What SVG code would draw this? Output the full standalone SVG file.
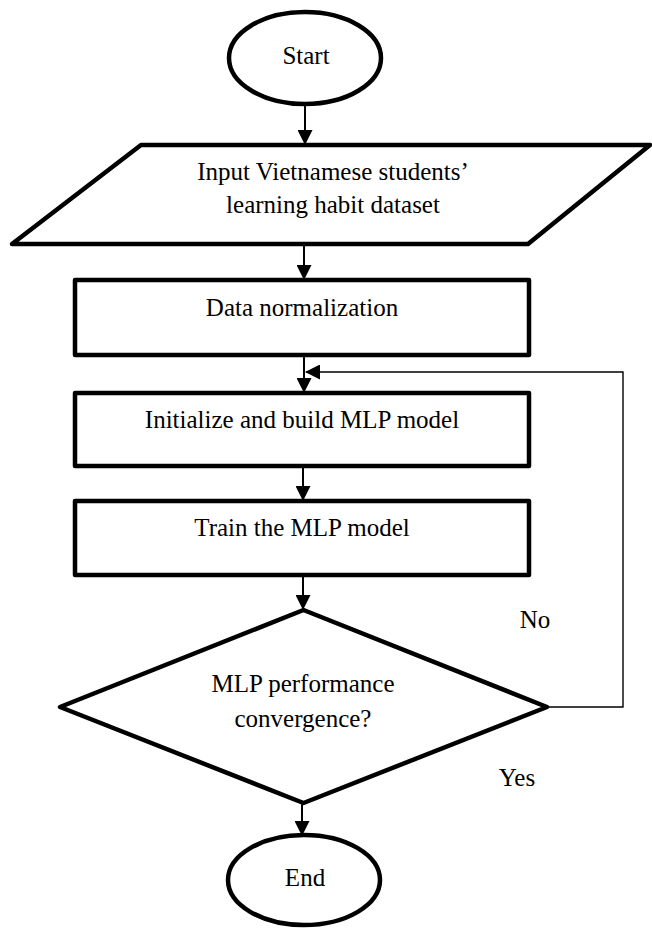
<svg xmlns="http://www.w3.org/2000/svg" width="652" height="934" viewBox="0 0 652 934">
<style>
.shape{fill:#fff;stroke:#000;stroke-width:4.5;stroke-linejoin:round}
.txt{font-family:'Liberation Serif','Times New Roman','DejaVu Serif',serif;font-size:25px;fill:#000;text-anchor:middle}
.conn{fill:none;stroke:#000;stroke-width:2}
.thin{fill:none;stroke:#000;stroke-width:1.4}
</style>
<defs>
<marker id="ah" markerUnits="userSpaceOnUse" markerWidth="15" markerHeight="15" refX="14" refY="7.5" orient="auto">
<path d="M0,0 L15,7.5 L0,15 z" fill="#000"/>
</marker>
</defs>
<rect width="652" height="934" fill="#fff"/>
<g id="connectors">
<line class="conn" x1="305" y1="103" x2="305" y2="144" marker-end="url(#ah)"/>
<line class="conn" x1="304" y1="245" x2="304" y2="279" marker-end="url(#ah)"/>
<line class="conn" x1="304" y1="356" x2="304" y2="392" marker-end="url(#ah)"/>
<polyline class="thin" points="547,707 623,707 623,372 306,372" marker-end="url(#ah)"/>
<line class="conn" x1="303" y1="467" x2="303" y2="500" marker-end="url(#ah)"/>
<line class="conn" x1="303" y1="576" x2="303" y2="609" marker-end="url(#ah)"/>
<line class="conn" x1="302" y1="804" x2="302" y2="835" marker-end="url(#ah)"/>
</g>
<g id="start">
<ellipse class="shape" cx="305" cy="58" rx="76" ry="46"/>
<text class="txt" x="306" y="64">Start</text>
</g>
<g id="input">
<polygon class="shape" points="141,145 650,145 528,244 12,244"/>
<text class="txt" x="333" y="180">Input Vietnamese students’</text>
<text class="txt" x="333" y="213">learning habit dataset</text>
</g>
<g id="normalize">
<rect class="shape" x="75" y="280" width="454" height="75"/>
<text class="txt" x="302" y="316">Data normalization</text>
</g>
<g id="init">
<rect class="shape" x="75" y="393" width="454" height="73"/>
<text class="txt" x="302" y="428">Initialize and build MLP model</text>
</g>
<g id="train">
<rect class="shape" x="75" y="501" width="454" height="74"/>
<text class="txt" x="302" y="536">Train the MLP model</text>
</g>
<g id="decision">
<polygon class="shape" points="303.5,610 547,707 303.5,803 60,707"/>
<text class="txt" x="303" y="692">MLP performance</text>
<text class="txt" x="303" y="727">convergence?</text>
</g>
<g id="labels">
<text class="txt" x="535" y="628">No</text>
<text class="txt" x="517" y="786">Yes</text>
</g>
<g id="end">
<ellipse class="shape" cx="304" cy="880" rx="76" ry="45"/>
<text class="txt" x="305" y="886">End</text>
</g>
</svg>
